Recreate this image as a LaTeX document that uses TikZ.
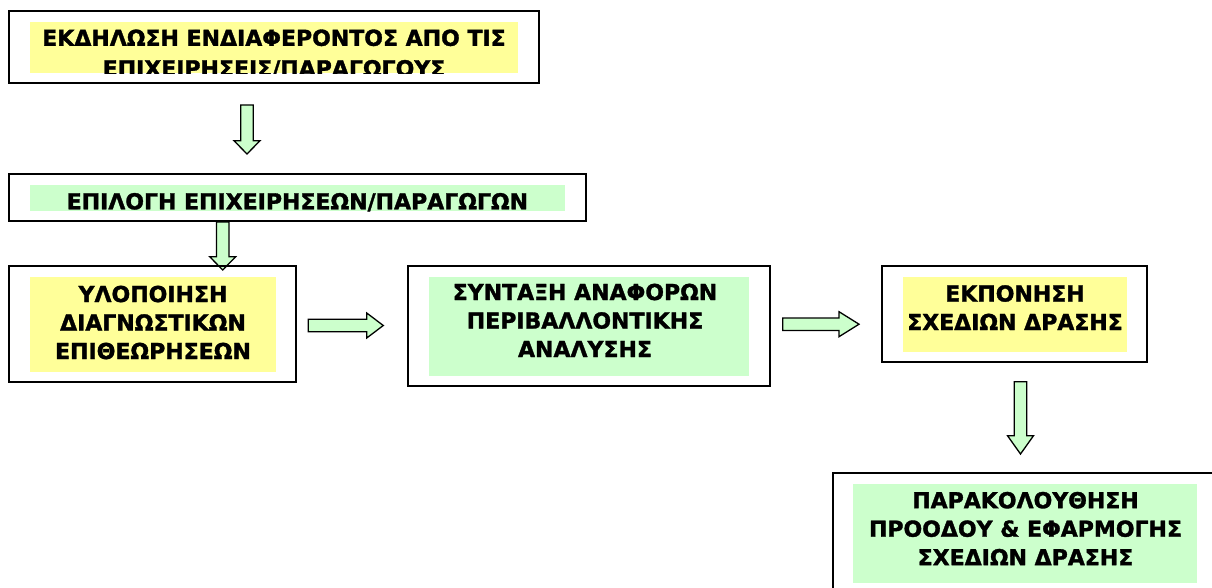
\documentclass[tikz,border=0pt]{standalone}
\usepackage{fontspec}
\setmainfont{DejaVu Sans}[BoldFeatures={FakeBold=1.5}]
\definecolor{hlyellow}{HTML}{FFFF99}
\definecolor{hlgreen}{HTML}{CCFFCC}
\tikzset{
box/.style={draw=black,line width=2.2pt,inner sep=0pt},
hl/.style={fill=#1,inner sep=0pt},
txt/.style={align=center,inner sep=0pt,anchor=north,font=\fontsize{22}{28.5}\selectfont\bfseries},
blockarrow/.style={draw=black,line width=1.3pt,fill=hlgreen,line join=miter},
pics/downarr/.style 2 args={code={\draw[blockarrow](-6.3,0)--(6.3,0)--(6.3,#1-#2)--(13,#1-#2)--(0,#1)--(-13,#1-#2)--(-6.3,#1-#2)--cycle;}},
pics/rightarr/.style 2 args={code={\draw[blockarrow](0,-6.2)--(#1-#2,-6.2)--(#1-#2,-12.5)--(#1,0)--(#1-#2,12.5)--(#1-#2,6.2)--(0,6.2)--cycle;}}
}
\begin{document}
\begin{tikzpicture}[x=1pt,y=-1pt]
\useasboundingbox(0,0)rectangle(1212,588);
\clip(0,0)rectangle(1212,588);
\node[box,minimum width=529.4,minimum height=72](b1) at (274,47){};
\node[hl=hlyellow,minimum width=488,minimum height=51](h1) at (274,47.5){};
\begin{scope}
\clip(h1.north west)rectangle(h1.south east);
\node[txt](t1) at (274,29.3){ΕΚΔΗΛΩΣΗ ΕΝΔΙΑΦΕΡΟΝΤΟΣ ΑΠΟ ΤΙΣ\\[2pt]ΕΠΙΧΕΙΡΗΣΕΙΣ/ΠΑΡΑΓΩΓΟΥΣ};
\end{scope}
\pic at (247,105){downarr={49}{13.3}};
\node[box,minimum width=576.4,minimum height=47.3](b2) at (297.5,197.4){};
\node[hl=hlgreen,minimum width=535,minimum height=25.7](h2) at (297.5,198.2){};
\node[txt](t2) at (297.4,192.8){ΕΠΙΛΟΓΗ ΕΠΙΧΕΙΡΗΣΕΩΝ/ΠΑΡΑΓΩΓΩΝ};
\pic at (222.7,222){downarr={48}{13.3}};
\node[box,minimum width=286.7,minimum height=116.3](b3) at (152.7,323.9){};
\node[hl=hlyellow,minimum width=246,minimum height=94.4](h3) at (153,324.5){};
\node[txt](t3) at (153,285.5){ΥΛΟΠΟΙΗΣΗ\\ΔΙΑΓΝΩΣΤΙΚΩΝ\\ΕΠΙΘΕΩΡΗΣΕΩΝ};
\pic at (308.3,325.5){rightarr={75}{16.6}};
\node[box,minimum width=361.7,minimum height=120.3](b4) at (589.2,325.9){};
\node[hl=hlgreen,minimum width=319.7,minimum height=98.4](h4) at (589.2,326.5){};
\node[txt](t4) at (585,283.5){ΣΥΝΤΑΞΗ ΑΝΑΦΟΡΩΝ\\ΠΕΡΙΒΑΛΛΟΝΤΙΚΗΣ\\ΑΝΑΛΥΣΗΣ};
\pic at (782.7,324.2){rightarr={76.3}{20}};
\node[box,minimum width=265,minimum height=96](b5) at (1014.8,313.7){};
\node[hl=hlyellow,minimum width=224,minimum height=74.4](h5) at (1015.3,314.5){};
\node[txt](t5) at (1015,285){ΕΚΠΟΝΗΣΗ\\ΣΧΕΔΙΩΝ ΔΡΑΣΗΣ};
\pic at (1020.5,381.7){downarr={72.3}{18.3}};
\node[box,minimum width=384.3,minimum height=122](b6) at (1024.8,533.7){};
\node[hl=hlgreen,minimum width=343.4,minimum height=98.7](h6) at (1025,533.4){};
\node[txt](t6) at (1025.5,491.7){ΠΑΡΑΚΟΛΟΥΘΗΣΗ\\ΠΡΟΟΔΟΥ \& ΕΦΑΡΜΟΓΗΣ\\ΣΧΕΔΙΩΝ ΔΡΑΣΗΣ};
\end{tikzpicture}
\end{document}
